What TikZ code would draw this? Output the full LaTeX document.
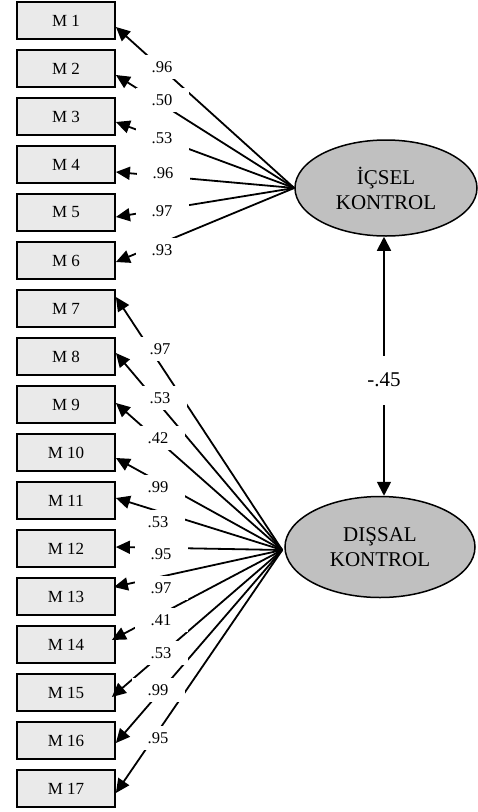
\documentclass[tikz,border=0pt]{standalone}
\usepackage{fontspec}
\setmainfont{Liberation Serif}
\usetikzlibrary{shapes.geometric,arrows.meta}
\definecolor{boxgray}{RGB}{234,234,234}
\definecolor{ellgray}{RGB}{192,192,192}
\begin{document}
\begin{tikzpicture}[x=1pt,y=-1pt,
  obs/.style={draw,line width=1.8pt,fill=boxgray,minimum width=98pt,minimum height=37pt,inner sep=0pt,font=\fontsize{17}{20}\selectfont},
  lat/.style={draw,line width=1.5pt,fill=ellgray,ellipse,inner sep=0pt,align=center,font=\fontsize{21}{25}\selectfont},
  load/.style={line width=1.8pt,-{Triangle[length=14pt,width=13pt]}},
  lab/.style={fill=white,inner sep=0pt,minimum width=53pt,minimum height=24pt,font=\fontsize{16.5}{19}\selectfont},
  corlab/.style={fill=white,inner sep=0pt,minimum width=50pt,minimum height=49pt,font=\fontsize{21}{25}\selectfont}]
\useasboundingbox (0,0) rectangle (478,812);
\fill[white] (0,0) rectangle (478,812);
% observed boxes
\foreach \i in {1,...,17}{
  \node[obs] (m\i) at (66,{20.5+48*(\i-1)}) {M \i};
}
% latent variables
\node[lat,minimum width=182pt,minimum height=96pt] (ic) at (386,188) {İÇSEL\\KONTROL};
\node[lat,minimum width=190pt,minimum height=101pt] (dis) at (380,547) {DIŞSAL\\KONTROL};
% loadings factor 1
\coordinate (s1) at (ic.west);
\foreach \i/\dx/\dy in {1/0/-6.5,2/0/-6.5,3/0/-5.5,4/0/-7.5,5/0/-4.5,6/0/-1.5}{
  \draw[load] (s1) -- ([xshift=\dx pt,yshift=\dy pt]m\i.east);
}
% loadings factor 2
\coordinate (s2) at ([xshift=-2pt,yshift=-3pt]dis.west);
\foreach \i/\dx/\dy in {7/0/11.5,8/0/3.5,9/0/1.5,10/0/-5.5,11/0/2.5,12/0/1.5,13/-2/9.5,14/-4/4.5,15/-4/-4.5,16/0/-2.5,17/0/-4.5}{
  \draw[load] (s2) -- ([xshift=\dx pt,yshift=\dy pt]m\i.east);
}
% loading labels
\node[lab] (l1) at (162,67) {.96};
\node[lab] (l2) at (162,100) {.50};
\node[lab] (l3) at (162,138) {.53};
\node[lab] (l4) at (163,173) {.96};
\node[lab] (l5) at (162,211) {.97};
\node[lab] (l6) at (162,250) {.93};
\node[lab] (l7) at (160,349) {.97};
\node[lab] (l8) at (160,398) {.53};
\node[lab] (l9) at (158,438) {.42};
\node[lab] (l10) at (158,487) {.99};
\node[lab] (l11) at (158,522) {.53};
\node[lab] (l12) at (161,554) {.95};
\node[lab] (l13) at (161,588) {.97};
\node[lab] (l14) at (161,620) {.41};
\node[lab] (l15) at (161,653) {.53};
\node[lab] (l16) at (158,690) {.99};
\node[lab] (l17) at (158,738) {.95};
% correlation
\draw[line width=1.8pt,{Triangle[length=14pt,width=14pt]}-{Triangle[length=14pt,width=14pt]}] ([xshift=-2pt]ic.south) -- ([xshift=4pt]dis.north);
\node[corlab] (r) at (384,380) {-.45};
\end{tikzpicture}
\end{document}
